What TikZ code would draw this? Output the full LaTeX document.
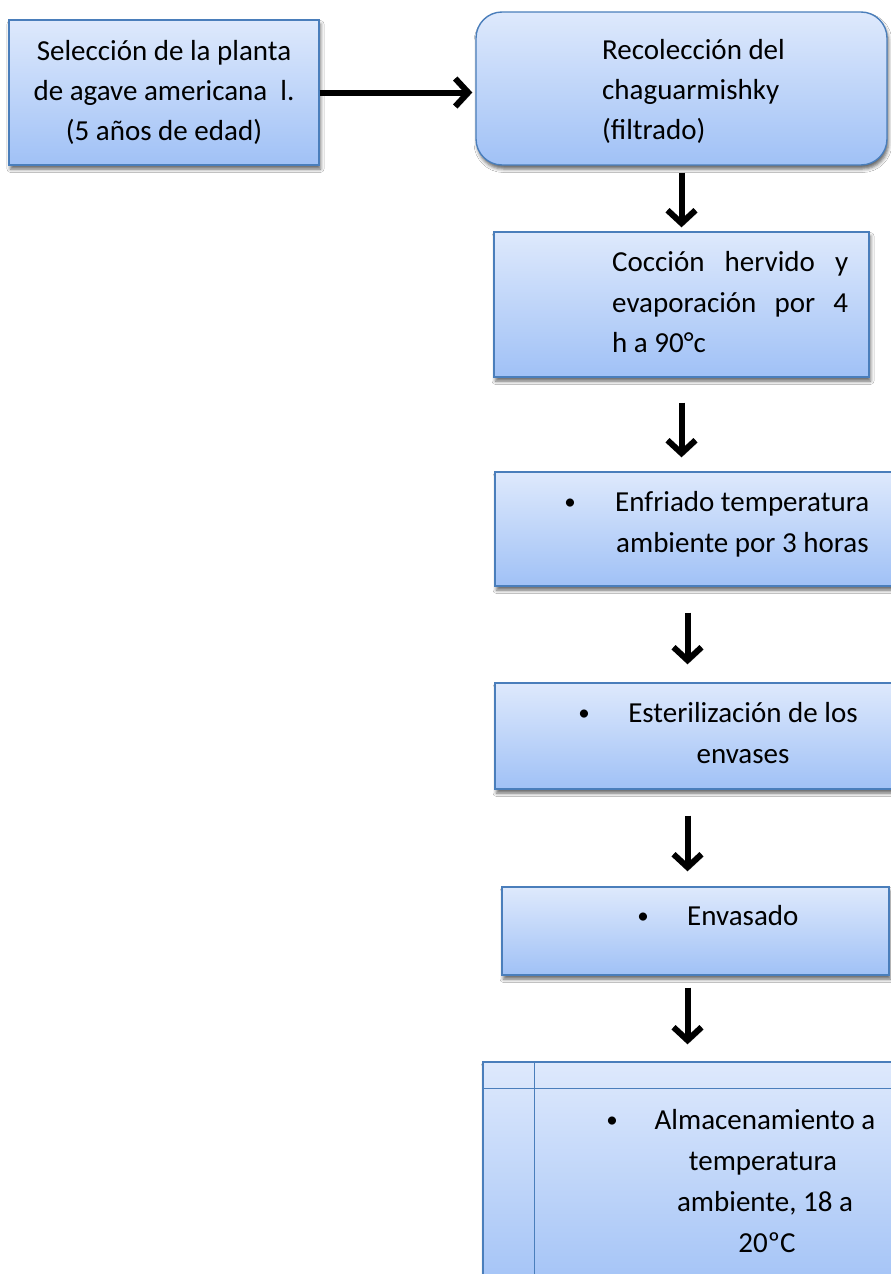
\documentclass[tikz,border=0pt]{standalone}
\usepackage{fontspec}
\setmainfont{Carlito}
\usetikzlibrary{arrows.meta,shadows.blur}
\definecolor{bord}{RGB}{74,126,187}
\definecolor{ftop}{RGB}{222,233,252}
\definecolor{fbot}{RGB}{160,193,246}
\begin{document}
\begin{tikzpicture}[x=1pt,y=-1pt,
  box/.style={draw=bord, line width=1.4pt, top color=ftop, bottom color=fbot, inner sep=0pt,
    blur shadow={shadow xshift=1.5pt, shadow yshift=-4pt, shadow blur radius=3.5pt, shadow opacity=60}},
  grid/.style={draw=bord, line width=1.4pt},
  txt/.style={inner sep=0pt, font=\fontsize{29}{40}\selectfont, text=black},
  bul/.style={inner sep=0pt, font=\fontsize{23}{40}\selectfont, text=black},
  arr/.style={line width=6pt, black, -{Straight Barb[length=13pt,width=28pt]},
    preaction={draw=black!30, opacity=0.5, transform canvas={xshift=2pt,yshift=-2.5pt}}}]
\useasboundingbox (0,0) rectangle (891,1274);
\clip (0,0) rectangle (891,1274);
\fill[white] (0,0) rectangle (891,1274);

% boxes
\node[box, minimum width=310pt, minimum height=145pt] (b1) at (164,92.5) {};
\node[box, rounded corners=26pt, minimum width=411pt, minimum height=153pt] (b2) at (681.5,88.5) {};
\node[box, minimum width=375pt, minimum height=145pt] (b3) at (681.5,304.5) {};
\node[box, minimum width=410pt, minimum height=114pt] (b4) at (700,529) {};
\node[box, minimum width=410pt, minimum height=106pt] (b5) at (700,736) {};
\node[box, minimum width=387pt, minimum height=88pt] (b6) at (695.5,931) {};
\node[box, minimum width=422pt, minimum height=238pt] (b7) at (694,1181) {};
\draw[grid] ([xshift=52pt]b7.north west) -- ([xshift=52pt]b7.south west);
\draw[grid] ([yshift=-27pt]b7.north west) -- ([yshift=-27pt]b7.north east);

% texts
\node[txt, anchor=base] (t1a) at (164,60) {Selección de la planta};
\node[txt, anchor=base] (t1b) at (164,100) {de agave americana\ \ l.};
\node[txt, anchor=base] (t1c) at (164,140) {(5 años de edad)};

\node[txt, anchor=base west] (t2a) at (602,59) {Recolección del};
\node[txt, anchor=base west] (t2b) at (602,99) {chaguarmishky};
\node[txt, anchor=base west] (t2c) at (602,139) {(filtrado)};

\node[txt, anchor=base west] (t3a) at (612,271) {\makebox[236pt][l]{Cocción\hfill hervido\hfill y}};
\node[txt, anchor=base west] (t3b) at (612,312) {\makebox[236pt][l]{evaporación\hfill por\hfill 4}};
\node[txt, anchor=base west] (t3c) at (612,352) {h a 90°c};

\node[bul, anchor=base] (p4) at (570,509) {•};
\node[txt, anchor=base west] (t4a) at (615,511) {Enfriado temperatura};
\node[txt, anchor=base west] (t4b) at (616,552) {ambiente por 3 horas};

\node[bul, anchor=base] (p5) at (584,720) {•};
\node[txt, anchor=base] (t5a) at (743,722) {Esterilización de los};
\node[txt, anchor=base] (t5b) at (743,763) {envases};

\node[bul, anchor=base] (p6) at (643,923) {•};
\node[txt, anchor=base west] (t6a) at (687,925) {Envasado};

\node[bul, anchor=base] (p7) at (612,1127) {•};
\node[txt, anchor=base] (t7a) at (765,1129) {Almacenamiento a};
\node[txt, anchor=base] (t7b) at (763,1170) {temperatura};
\node[txt, anchor=base] (t7c) at (765,1211) {ambiente, 18 a};
\node[txt, anchor=base] (t7d) at (767,1252) {20ºC};

% connectors
\coordinate (ax) at (687.5,0);
\draw[arr, shorten >=3pt] (b1.east) -- (b1.east -| b2.west);
\draw[arr, shorten <=7pt, shorten >=4pt] (b2.south) -- (b3.north);
\draw[arr, shorten <=25pt, shorten >=14pt] (b3.south) -- (b3.south |- b4.north);
\draw[arr, shorten <=26pt, shorten >=18pt] (b4.south -| ax) -- (b5.north -| ax);
\draw[arr, shorten <=26pt, shorten >=15pt] (b5.south -| ax) -- (b6.north -| ax);
\draw[arr, shorten <=12pt, shorten >=17pt] (b6.south -| ax) -- (b7.north -| ax);
\end{tikzpicture}
\end{document}
